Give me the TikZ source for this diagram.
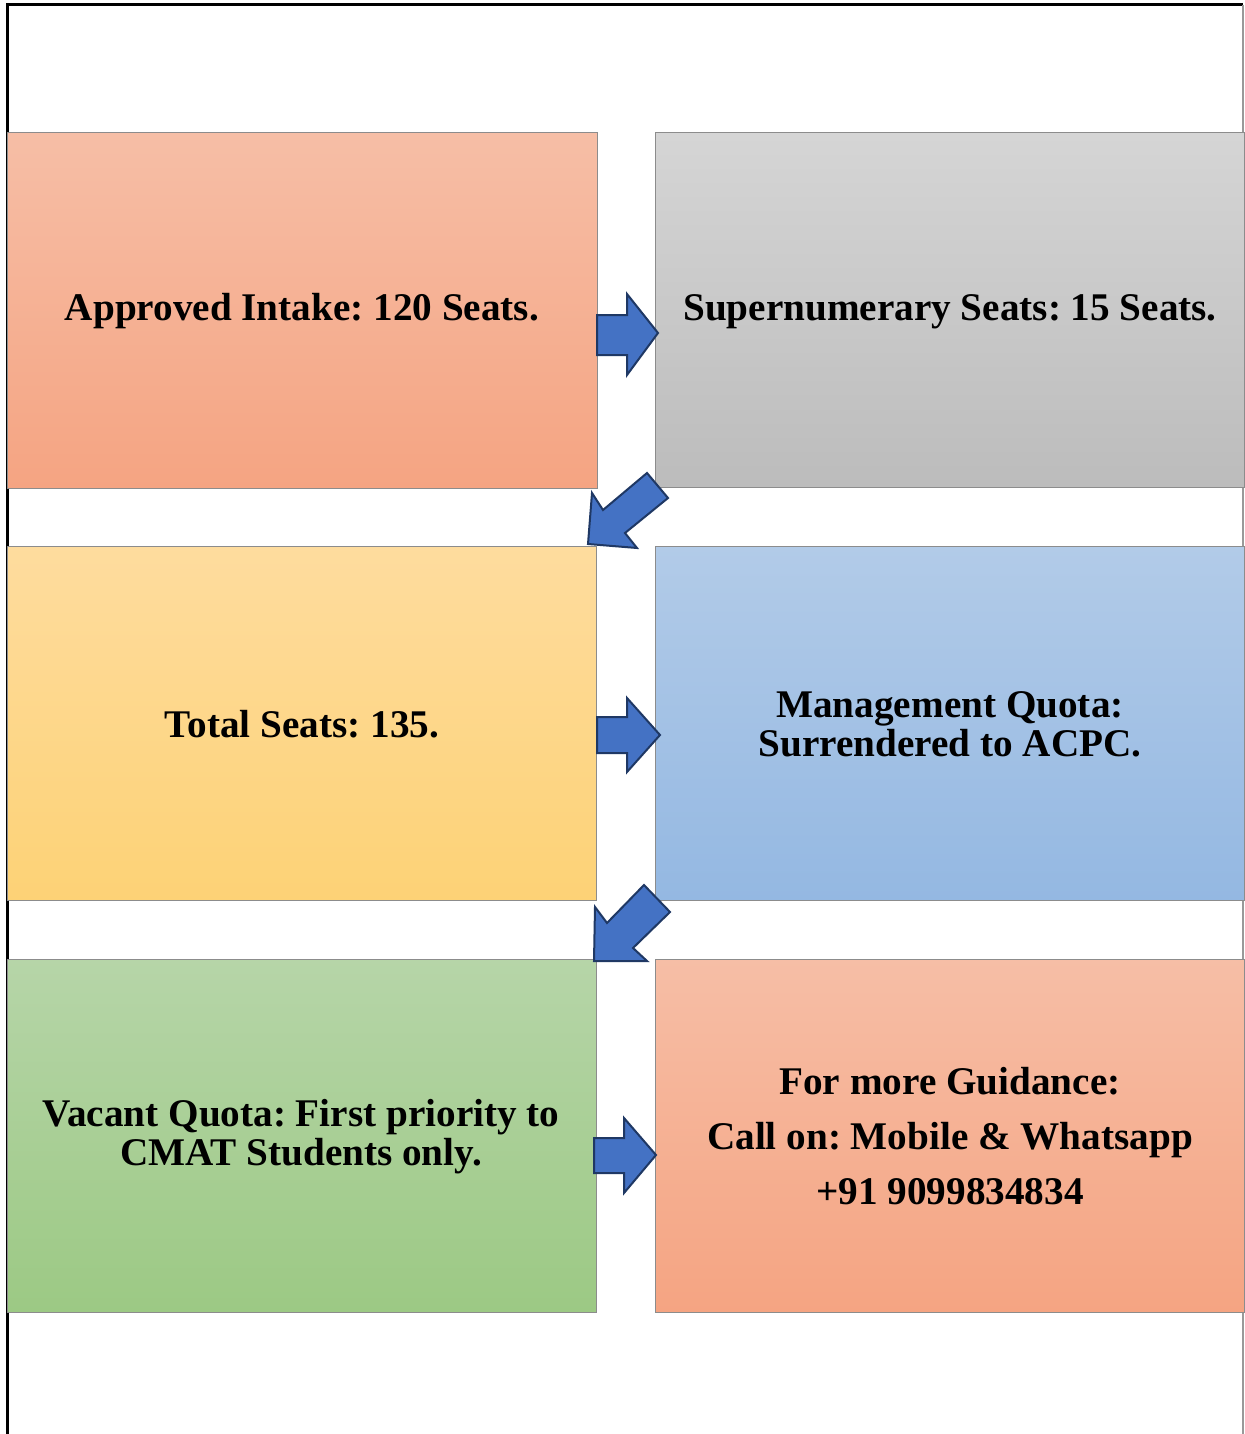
\documentclass[tikz,border=0pt]{standalone}
\usepackage{fontspec}
\setmainfont{Liberation Serif}
\frenchspacing
\begin{document}
\begin{tikzpicture}[x=0.5pt,y=-0.5pt,
  box/.style={draw=black!45,line width=0.5pt,inner sep=0pt,outer sep=0pt,anchor=north west,
    font=\fontsize{19.6}{19.5}\selectfont\bfseries,align=center,text=black},
  blockarrow/.style={fill=arrowblue,draw=arrowedge,line width=1pt,line join=miter}]
\definecolor{arrowblue}{HTML}{4472C4}
\definecolor{arrowedge}{HTML}{1F3864}
\definecolor{salmonT}{HTML}{F6BEA6}
\definecolor{salmonB}{HTML}{F5A482}
\definecolor{grayT}{HTML}{D5D5D5}
\definecolor{grayB}{HTML}{BCBCBC}
\definecolor{yelT}{HTML}{FEDC9E}
\definecolor{yelB}{HTML}{FDD276}
\definecolor{bluT}{HTML}{B2CBE8}
\definecolor{bluB}{HTML}{94B8E2}
\definecolor{grnT}{HTML}{B6D5A8}
\definecolor{grnB}{HTML}{9CC984}
\useasboundingbox (0,0) rectangle (1244,1434);
\fill[white] (0,0) rectangle (1244,1434);
% frame
\draw[black,line width=1.5pt] (7,1434) -- (7,5) -- (1243,5);
\draw[black!40,line width=1pt] (1243,5) -- (1243,1434);
% boxes
\node[box,top color=salmonT,bottom color=salmonB,minimum width=295pt,minimum height=177.5pt] (b1) at (7,133) {};
\node[box,top color=grayT,bottom color=grayB,minimum width=294.5pt,minimum height=177pt] (b2) at (655,133) {};
\node[box,top color=yelT,bottom color=yelB,minimum width=294.5pt,minimum height=177pt] (b3) at (7,546) {};
\node[box,top color=bluT,bottom color=bluB,minimum width=294.5pt,minimum height=177pt] (b4) at (655,546) {};
\node[box,top color=grnT,bottom color=grnB,minimum width=294.5pt,minimum height=176.5pt] (b5) at (7,959) {};
\node[box,top color=salmonT,bottom color=salmonB,minimum width=294.5pt,minimum height=176.5pt] (b6) at (655,959) {};
% texts
\node[box,anchor=center,draw=none] (t1) at (302,311) {Approved Intake: 120 Seats.};
\node[box,anchor=center,draw=none] (t2) at (950,312) {Supernumerary Seats: 15 Seats.};
\node[box,anchor=center,draw=none] (t3) at (302,724) {Total Seats: 135.};
\node[box,anchor=center,draw=none] (t4) at (950,724) {Management Quota:\\Surrendered to ACPC.};
\node[box,anchor=center,draw=none] (t5) at (301,1137) {Vacant Quota: First priority to\\CMAT Students only.};
\node[box,anchor=center,draw=none,font=\fontsize{19.6}{27.5}\selectfont\bfseries] (t6) at (950,1136) {For more Guidance:\\Call on: Mobile \& Whatsapp\\+91 9099834834};
% block arrows
\draw[blockarrow] (597,315) -- (627,315) -- (627,294) -- (658,333) -- (627,375) -- (627,355) -- (597,355) -- cycle;
\draw[blockarrow] (597,717) -- (627,717) -- (627,698) -- (660,735) -- (627,772) -- (627,753) -- (597,753) -- cycle;
\draw[blockarrow] (594,1138) -- (624,1138) -- (624,1118) -- (656,1155) -- (624,1193) -- (624,1173) -- (594,1173) -- cycle;
\draw[blockarrow] (647,473) -- (668,498) -- (625,533) -- (637,548) -- (588,544) -- (592,493) -- (603,510) -- cycle;
\draw[blockarrow] (644,885) -- (670,912) -- (633,948) -- (647,961) -- (594,961) -- (595,907) -- (607,923) -- cycle;
\end{tikzpicture}
\end{document}
